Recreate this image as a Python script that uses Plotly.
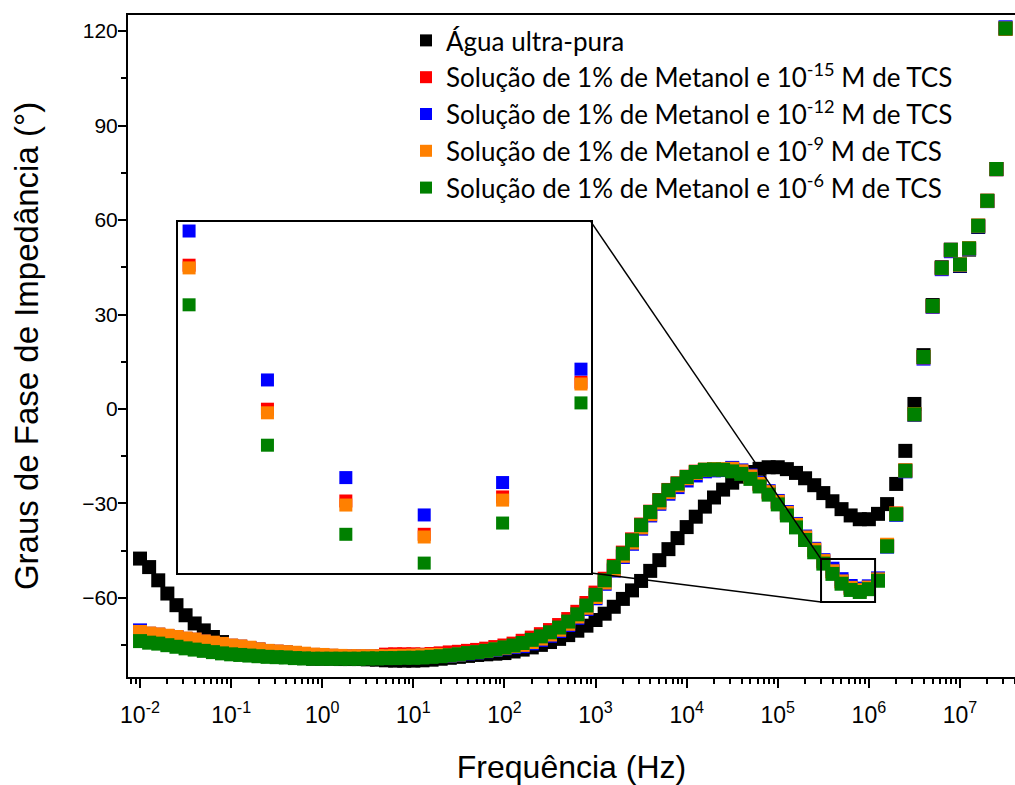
import plotly.graph_objects as go

# Measurement frequencies, log10(f / Hz), ten points per decade
log_freq = [
    -2.0, -1.9, -1.8, -1.7, -1.6, -1.5, -1.4, -1.3, -1.2, -1.1,
    -1.0, -0.9, -0.8, -0.7, -0.6, -0.5, -0.4, -0.3, -0.2, -0.1,
    0.0, 0.1, 0.2, 0.3, 0.4, 0.5, 0.6, 0.7, 0.8, 0.9,
    1.0, 1.1, 1.2, 1.3, 1.4, 1.5, 1.6, 1.7, 1.8, 1.9,
    2.0, 2.1, 2.2, 2.3, 2.4, 2.5, 2.6, 2.7, 2.8, 2.9,
    3.0, 3.1, 3.2, 3.3, 3.4, 3.5, 3.6, 3.7, 3.8, 3.9,
    4.0, 4.1, 4.2, 4.3, 4.4, 4.5, 4.6, 4.7, 4.8, 4.9,
    5.0, 5.1, 5.2, 5.3, 5.4, 5.5, 5.6, 5.7, 5.8, 5.9,
    6.0, 6.1, 6.2, 6.3, 6.4, 6.5, 6.6, 6.7, 6.8, 6.9,
    7.0, 7.1, 7.2, 7.3, 7.4, 7.5,
]
freq_hz = [10 ** v for v in log_freq]

# Impedance phase angle (degrees)
fase_agua = [
    -47.5, -50.2, -54.4, -58.6, -62.3, -65.5, -68.1, -70.3, -72.4, -74.0,
    -75.3, -76.2, -76.9, -77.5, -77.9, -78.3, -78.6, -78.9, -79.1, -79.3,
    -79.3, -79.3, -79.4, -79.4, -79.4, -79.5, -79.6, -79.8, -79.9, -79.9,
    -79.9, -79.8, -79.6, -79.3, -79.0, -78.7, -78.4, -78.1, -77.9, -77.7,
    -77.5, -77.0, -76.4, -75.7, -74.9, -74.0, -73.0, -71.8, -70.4, -68.8,
    -67.0, -65.0, -62.8, -60.3, -57.6, -54.6, -51.4, -48.0, -44.5, -41.0,
    -37.5, -34.2, -31.0, -28.1, -25.6, -23.4, -21.5, -20.0, -19.0, -18.5,
    -18.5, -19.1, -20.3, -22.0, -24.2, -26.7, -29.3, -31.8, -33.8, -35.0,
    -35.0, -33.3, -30.2, -23.8, -13.3, 1.6, 17.1, 33.0, 45.0, 50.6,
    45.4, 50.6, 57.8, 66.1, 76.2, 120.8,
]
fase_tcs_1e15 = [
    -70.9, -71.4, -71.7, -72.1, -72.5, -73.0, -73.3, -73.9, -74.3, -74.7,
    -75.2, -75.5, -75.9, -76.4, -76.9, -77.1, -77.3, -77.5, -77.8, -78.1,
    -78.2, -78.4, -78.5, -78.6, -78.6, -78.6, -78.5, -78.0, -77.9, -77.9,
    -77.9, -78.0, -77.8, -77.6, -77.3, -77.1, -76.8, -76.5, -76.1, -75.6,
    -75.1, -74.5, -73.6, -72.6, -71.5, -70.2, -68.6, -66.7, -64.4, -61.6,
    -58.3, -53.9, -49.8, -45.6, -41.4, -36.7, -32.6, -28.9, -25.7, -23.6,
    -21.5, -19.9, -19.3, -19.2, -19.3, -19.2, -19.9, -21.5, -23.9, -26.5,
    -29.6, -33.1, -36.9, -40.9, -44.8, -48.4, -51.48, -54.68, -56.72, -57.46,
    -56.63, -54.08, -43.4, -33.2, -19.5, -1.6, 16.5, 32.7, 44.8, 50.5,
    45.9, 51.0, 58.2, 66.1, 76.2, 120.8,
]
fase_tcs_1e12 = [
    -70.3, -71.4, -71.7, -72.1, -72.5, -73.0, -73.3, -73.9, -74.3, -74.7,
    -75.2, -75.5, -75.9, -76.4, -76.9, -77.1, -77.3, -77.5, -77.8, -78.1,
    -78.2, -78.4, -78.5, -78.6, -78.6, -78.6, -78.6, -78.6, -78.5, -78.5,
    -78.4, -78.3, -78.2, -78.4, -78.3, -78.0, -77.6, -77.3, -76.9, -76.5,
    -76.0, -75.6, -75.3, -74.4, -73.3, -72.0, -70.5, -68.6, -66.3, -63.5,
    -60.1, -55.5, -51.3, -47.0, -42.8, -38.0, -33.8, -30.1, -26.9, -24.8,
    -22.7, -21.1, -19.8, -19.5, -19.4, -18.7, -19.5, -21.1, -23.5, -26.1,
    -29.2, -32.7, -36.5, -40.5, -44.4, -48.0, -50.72, -54.03, -56.20, -57.03,
    -56.31, -53.79, -43.7, -33.6, -19.8, -1.9, 16.0, 32.4, 44.4, 50.1,
    45.6, 50.8, 58.0, 66.0, 76.1, 121.2,
]
fase_tcs_1e9 = [
    -70.8, -71.3, -71.6, -72.0, -72.4, -72.9, -73.2, -73.8, -74.2, -74.6,
    -75.1, -75.4, -75.8, -76.3, -76.8, -77.0, -77.2, -77.4, -77.7, -78.0,
    -78.1, -78.3, -78.4, -78.5, -78.5, -78.5, -78.5, -78.5, -78.4, -78.4,
    -78.3, -78.2, -78.1, -78.1, -78.2, -77.9, -77.5, -77.2, -76.8, -76.3,
    -75.8, -75.3, -74.9, -74.0, -72.9, -71.6, -70.1, -68.2, -65.9, -63.1,
    -59.7, -55.1, -50.9, -46.6, -42.4, -37.6, -33.4, -29.7, -26.4, -24.2,
    -22.0, -20.3, -19.3, -19.1, -19.1, -19.0, -19.8, -21.4, -23.8, -26.4,
    -29.5, -33.0, -36.8, -40.8, -44.7, -48.3, -51.54, -54.76, -56.81, -57.52,
    -56.70, -54.12, -43.1, -33.2, -19.5, -1.7, 16.4, 32.6, 44.7, 50.4,
    45.8, 51.0, 58.2, 66.1, 76.1, 120.8,
]
fase_tcs_1e6 = [
    -73.7, -74.2, -74.5, -75.0, -75.5, -76.0, -76.4, -76.8, -77.2, -77.6,
    -77.9, -78.1, -78.3, -78.5, -78.7, -78.8, -78.9, -79.1, -79.2, -79.3,
    -79.3, -79.3, -79.3, -79.3, -79.3, -79.2, -79.2, -79.1, -79.1, -79.0,
    -79.0, -78.9, -78.7, -78.5, -78.2, -77.9, -77.5, -77.2, -76.8, -76.3,
    -75.7, -75.1, -74.3, -73.3, -72.2, -70.9, -69.4, -67.5, -65.2, -62.4,
    -59.0, -54.4, -50.2, -45.9, -41.7, -36.9, -32.7, -29.0, -25.8, -23.7,
    -21.6, -20.0, -19.3, -19.2, -19.3, -19.8, -20.6, -22.2, -24.6, -27.2,
    -30.3, -33.8, -37.6, -41.6, -45.5, -49.1, -52.36, -55.48, -57.46, -58.10,
    -57.21, -54.54, -43.6, -33.4, -19.6, -1.7, 16.5, 32.7, 44.8, 50.5,
    45.9, 51.0, 58.2, 66.1, 76.2, 120.8,
]

series_names = [
    "Água ultra-pura",
    "Solução de 1% de Metanol e 10<sup>-15</sup> M de TCS",
    "Solução de 1% de Metanol e 10<sup>-12</sup> M de TCS",
    "Solução de 1% de Metanol e 10<sup>-9</sup> M de TCS",
    "Solução de 1% de Metanol e 10<sup>-6</sup> M de TCS",
]
series_values = [fase_agua, fase_tcs_1e15, fase_tcs_1e12, fase_tcs_1e9, fase_tcs_1e6]
series_colors = ["#000000", "#ff0000", "#0000ff", "#ff8000", "#008000"]

x_tick_exponents = [-2, -1, 0, 1, 2, 3, 4, 5, 6, 7]
y_tick_values = [-60, -30, 0, 30, 60, 90, 120]

# Detail window: the six points around the high-frequency minimum
inset_start, inset_stop = 76, 82

fig = go.Figure()

for i, (name, vals, color) in enumerate(zip(series_names, series_values, series_colors)):
    fig.add_trace(go.Scatter(
        x=freq_hz, y=vals, mode="markers", name=name,
        legendgroup=f"g{i}",
        marker=dict(symbol="square", size=14, color=color, line=dict(width=0)),
        xaxis="x", yaxis="y",
    ))

for i, (vals, color) in enumerate(zip(series_values[1:], series_colors[1:])):
    fig.add_trace(go.Scatter(
        x=freq_hz[inset_start:inset_stop], y=vals[inset_start:inset_stop],
        mode="markers", showlegend=False,
        marker=dict(symbol="square", size=13, color=color, line=dict(width=0)),
        xaxis="x2", yaxis="y2",
    ))

sans = "Liberation Sans, Arial, sans-serif"
axis_font = dict(family=sans, size=21, color="#000000")

minor_x = [m * 10 ** e for e in range(-3, 8) for m in range(2, 10)]
minor_y = [v + 15 for v in y_tick_values[:-1]] + [-75]

fig.update_layout(
    width=1015, height=785,
    margin=dict(l=128, r=0, t=15, b=108),
    paper_bgcolor="white", plot_bgcolor="white",
    font=axis_font,
    showlegend=True,
    legend=dict(
        x=0.3134, y=0.997, xanchor="left", yanchor="top",
        bgcolor="rgba(0,0,0,0)", borderwidth=0,
        font=dict(family="Lato, sans-serif", size=26, color="#000000"),
        traceorder="grouped", tracegroupgap=0,
        itemsizing="constant",
    ),
    xaxis=dict(
        type="log", range=[-2.132, 7.604],
        tickvals=[10 ** e for e in x_tick_exponents],
        ticktext=[f"10<sup>{e}</sup>" for e in x_tick_exponents],
        ticks="outside", ticklen=9, tickwidth=2, tickcolor="#000000",
        minor=dict(tickvals=minor_x, ticks="outside", ticklen=5, tickwidth=1.5, tickcolor="#000000"),
        showline=True, linewidth=2, linecolor="#000000", mirror=True,
        showgrid=False, zeroline=False,
        tickfont=dict(family=sans, size=23),
        ticklabelstandoff=7,
        title=dict(text="Frequência (Hz)", standoff=30,
                   font=dict(family=sans, size=32)),
    ),
    yaxis=dict(
        range=[-85.1, 125.1],
        tickvals=y_tick_values,
        ticks="outside", ticklen=8, tickwidth=2, tickcolor="#000000",
        minor=dict(tickvals=minor_y, ticks="outside", ticklen=5, tickwidth=1.5, tickcolor="#000000"),
        showline=True, linewidth=2, linecolor="#000000", mirror=False,
        showgrid=False, zeroline=False,
        tickfont=dict(family=sans, size=21),
        ticklabelstandoff=-4,
        title=dict(text="Graus de Fase de Impedância (°)", standoff=34,
                   font=dict(family=sans, size=33)),
    ),
    xaxis2=dict(
        type="log", range=[5.5859, 6.1128],
        domain=[0.0564, 0.522], anchor="y2",
        showline=True, linewidth=2, linecolor="#000000", mirror=True,
        showticklabels=False, ticks="", showgrid=False, zeroline=False,
    ),
    yaxis2=dict(
        range=[-58.32, -50.52],
        domain=[0.1571, 0.6873], anchor="x2",
        showline=True, linewidth=2, linecolor="#000000", mirror=True,
        showticklabels=False, ticks="", showgrid=False, zeroline=False,
    ),
)

# Zoom rectangle on the main axes and the lines tying it to the detail panel
rect_x = [10 ** 5.475, 10 ** 6.068]
rect_y = [-61.3, -47.65]
panel_x = 10 ** 2.950
panel_y = [-52.1, 59.4]

fig.add_shape(type="rect", xref="x", yref="y",
              x0=rect_x[0], x1=rect_x[1], y0=rect_y[0], y1=rect_y[1],
              line=dict(color="#000000", width=2), layer="above")
fig.add_shape(type="line", xref="x", yref="y",
              x0=panel_x, y0=panel_y[1], x1=rect_x[0], y1=rect_y[1],
              line=dict(color="#000000", width=1.5), layer="above")
fig.add_shape(type="line", xref="x", yref="y",
              x0=panel_x, y0=panel_y[0], x1=rect_x[0], y1=rect_y[0],
              line=dict(color="#000000", width=1.5), layer="above")

fig.write_html("out.html")
